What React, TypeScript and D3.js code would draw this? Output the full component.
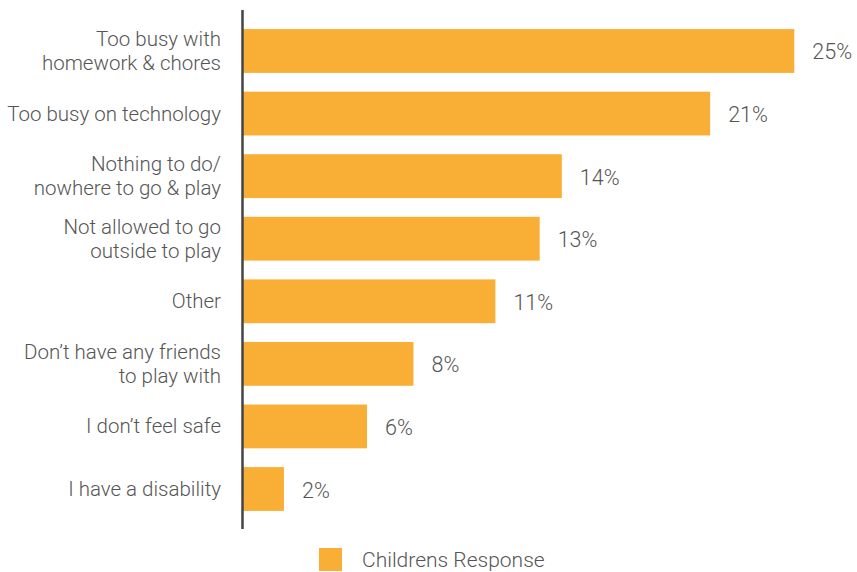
import React from "react";
import * as d3 from "d3";

const categories: string[][] = [
  ["Too busy with", "homework & chores"],
  ["Too busy on technology"],
  ["Nothing to do/", "nowhere to go & play"],
  ["Not allowed to go", "outside to play"],
  ["Other"],
  ["Don\u2019t have any friends", "to play with"],
  ["I don\u2019t feel safe"],
  ["I have a disability"],
];
const values: number[] = [24.9, 21.1, 14.4, 13.4, 11.4, 7.7, 5.6, 1.85];
const seriesName = "Childrens Response";

const W = 857;
const H = 572;
const color = "#F9AF35";
const textColor = "#555555";
const font = "Roboto, 'Liberation Sans', Arial, sans-serif";

export default function App() {
  const keys = categories.map((_, i) => String(i));
  const x = d3.scaleLinear().domain([0, 25]).range([243, 243 + 553.5]);
  const y = d3
    .scaleBand<string>()
    .domain(keys)
    .range([19.7, 520.3])
    .paddingInner(0.3)
    .paddingOuter(0.15);
  const bw = y.bandwidth();
  return (
    <svg
      width={W}
      height={H}
      style={{ position: "absolute", left: 0, top: 0, background: "#fff" }}
      fontFamily={font}
    >
      {values.map((v, i) => {
        const y0 = y(String(i))!;
        const cy = y0 + bw / 2;
        const lines = categories[i];
        return (
          <g key={i}>
            <rect x={x(0)} y={y0} width={x(v) - x(0)} height={bw} fill={color} />
            <text
              x={x(v) + 18}
              y={cy + 8.5}
              fontSize={21.5}
              fill={textColor}
              fontWeight={300}
            >
              {Math.round(v)}%
            </text>
            {lines.map((ln, j) => (
              <text
                key={j}
                x={221}
                y={cy + 7 + (j - (lines.length - 1) / 2) * 24}
                fontSize={20.5}
                fill={textColor}
                textAnchor="end"
                fontWeight={300}
              >
                {ln}
              </text>
            ))}
          </g>
        );
      })}
      <line x1={242.5} x2={242.5} y1={10} y2={529} stroke="#444" strokeWidth={2.5} />
      <rect x={319} y={548} width={23} height={23} fill={color} />
      <text x={362} y={567} fontSize={21} fill={textColor} fontWeight={300}>
        {seriesName}
      </text>
    </svg>
  );
}
